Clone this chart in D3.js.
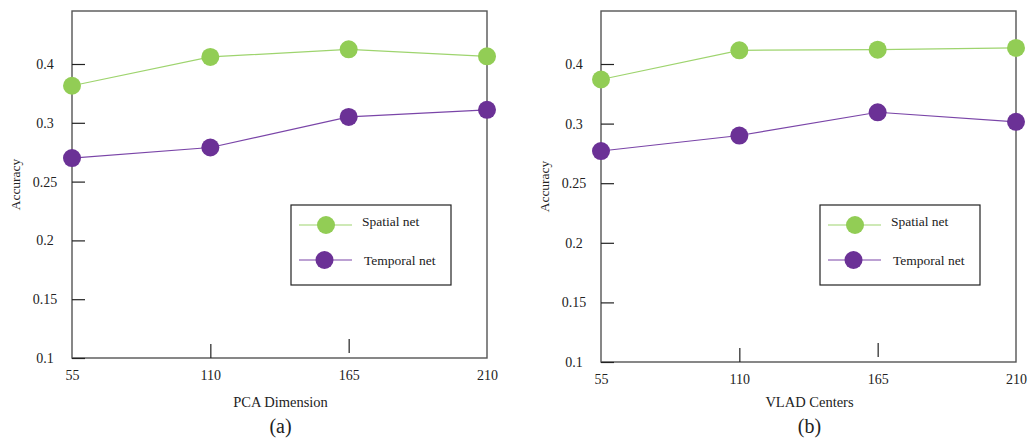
<!DOCTYPE html>
<html>
<head>
<meta charset="utf-8">
<script src="https://cdn.jsdelivr.net/npm/d3@7"></script>
<style>
	body { margin: 0; background: #fff; }
	text { font-family: 'Liberation Serif', 'Times New Roman', serif; fill: #222; }
</style>
</head>
<body>
<svg id="main" width="1031" height="445"></svg>
<script>

// values
const xLabels = ['55', '110', '165', '210'];
const yTickValues = [0.1, 0.15, 0.2, 0.25, 0.3, 0.4];
const seriesNames = ['Spatial net', 'Temporal net'];

const pcaSpatial = [0.363, 0.412, 0.425, 0.413];
const pcaTemporal = [0.270, 0.279, 0.310, 0.322];
const vladSpatial = [0.374, 0.423, 0.424, 0.427];
const vladTemporal = [0.277, 0.290, 0.319, 0.303];

const colors = ['#92cd55', '#6b3196'];
const lineColors = ['#9ed46e', '#7a45a8'];

main();

function main() {

	let svg = d3.select('#main');

	drawPanel(svg, {
		left: 72, right: 487, top: 11, bottom: 358,
		xTitle: 'PCA Dimension', tag: '(a)',
		series: [pcaSpatial, pcaTemporal]
	});

	drawPanel(svg, {
		left: 601, right: 1016, top: 11, bottom: 362,
		xTitle: 'VLAD Centers', tag: '(b)',
		series: [vladSpatial, vladTemporal]
	});
}

function drawPanel(svg, p) {

	let g = svg.append('g');

	let x = d3.scalePoint()
		.domain(xLabels)
		.range([p.left, p.right]);

	// ticks on the original are evenly spaced even though the labels are not
	let step = (p.bottom - 64) / (yTickValues.length - 1);
	let y = d3.scaleLinear()
		.domain(yTickValues)
		.range(yTickValues.map((d, i) => p.bottom - i * step));

	// frame
	g.append('rect')
		.attr('x', p.left)
		.attr('y', p.top)
		.attr('width', p.right - p.left)
		.attr('height', p.bottom - p.top)
		.attr('fill', 'none')
		.attr('stroke', '#555')
		.attr('stroke-width', 1.4);

	let yAxis = g.append('g')
		.attr('transform', `translate(${p.left},0)`)
		.call(d3.axisLeft(y)
			.tickValues(yTickValues)
			.tickFormat(d => String(d))
			.tickSize(-13)
			.tickPadding(27));
	yAxis.select('.domain').remove();
	yAxis.selectAll('.tick line').attr('stroke', '#222').attr('stroke-width', 1.2);
	yAxis.selectAll('.tick text')
		.attr('text-anchor', 'middle')
		.style('font-family', "'Liberation Serif', serif")
		.style('font-size', '14px')
		.attr('fill', '#222');

	let xAxis = g.append('g')
		.attr('transform', `translate(0,${p.bottom})`)
		.call(d3.axisBottom(x)
			.tickSize(-14)
			.tickPadding(12));
	xAxis.select('.domain').remove();
	xAxis.selectAll('.tick line')
		.attr('stroke', '#222')
		.attr('stroke-width', 1.2)
		// end ticks fall on the frame; the 165 tick sits a little above the axis
		.attr('display', (d, i) => (i === 0 || i === xLabels.length - 1) ? 'none' : null)
		.attr('transform', d => d === '165' ? 'translate(0,-5)' : null);
	xAxis.selectAll('.tick text')
		.style('font-family', "'Liberation Serif', serif")
		.style('font-size', '14px')
		.attr('fill', '#222');

	// titles
	g.append('text')
		.attr('transform', `translate(${p.left - 57},${(p.top + p.bottom) / 2}) rotate(-90)`)
		.attr('text-anchor', 'middle')
		.attr('dy', '0.35em')
		.style('font-size', '13.5px')
		.text('Accuracy');

	g.append('text')
		.attr('x', (p.left + p.right) / 2 + 1)
		.attr('y', 407)
		.attr('text-anchor', 'middle')
		.style('font-size', '14.5px')
		.text(p.xTitle);

	g.append('text')
		.attr('x', (p.left + p.right) / 2 + 1)
		.attr('y', 433)
		.attr('text-anchor', 'middle')
		.style('font-size', '20px')
		.text(p.tag);

	// series
	let line = d3.line()
		.x((d, i) => x(xLabels[i]))
		.y(d => y(d));

	p.series.forEach((vals, k) => {
		g.append('path')
			.datum(vals)
			.attr('d', line)
			.attr('fill', 'none')
			.attr('stroke', lineColors[k])
			.attr('stroke-width', 1.2);

		g.selectAll('.pt' + k)
			.data(vals)
			.enter()
			.append('circle')
			.attr('class', 'pt' + k)
			.attr('cx', (d, i) => x(xLabels[i]))
			.attr('cy', d => y(d))
			.attr('r', 9)
			.attr('fill', colors[k]);
	});

	// legend
	let lx = p.right - 196, ly = 205;
	let legend = g.append('g').attr('transform', `translate(${lx},${ly})`);
	legend.append('rect')
		.attr('width', 160)
		.attr('height', 80)
		.attr('fill', '#fff')
		.attr('stroke', '#222')
		.attr('stroke-width', 1.2);

	seriesNames.forEach((name, k) => {
		let yy = 20 + k * 35;
		legend.append('line')
			.attr('x1', 8).attr('x2', 61)
			.attr('y1', yy).attr('y2', yy)
			.attr('stroke', lineColors[k])
			.attr('stroke-width', 1.2);
		legend.append('circle')
			.attr('cx', 35 - k * 1.5)
			.attr('cy', yy)
			.attr('r', 9)
			.attr('fill', colors[k]);
		legend.append('text')
			.attr('x', 71 + k * 2)
			.attr('y', yy - (k === 0 ? 4 : 0))
			.attr('dy', '0.35em')
			.style('font-size', '13.5px')
			.text(name);
	});
}

</script>
</body>
</html>
